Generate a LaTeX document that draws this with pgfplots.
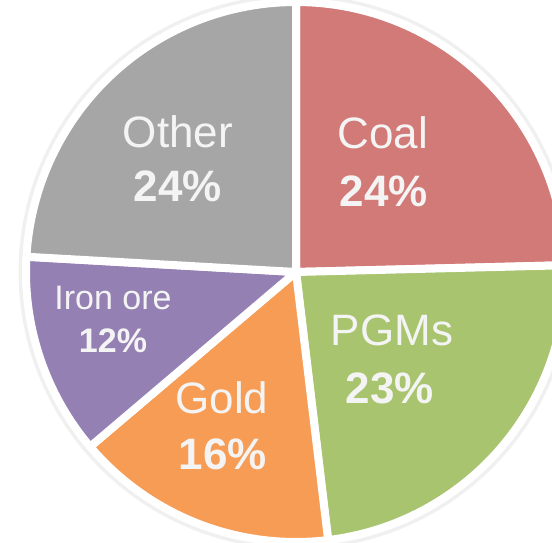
\documentclass[border=0pt]{standalone}
\usepackage{pgfplots}
\pgfplotsset{compat=1.18}
\usepackage{pgfplotstable}
\usepackage{fontspec}
\setmainfont{Liberation Sans}
\definecolor{coal}{HTML}{D17A77}
\definecolor{pgms}{HTML}{A8C46F}
\definecolor{gold}{HTML}{F79C55}
\definecolor{iron}{HTML}{9580B3}
\definecolor{other}{HTML}{A6A6A6}
\definecolor{lbl}{HTML}{F4F4F4}
\pgfplotstableread{
name value
Coal 24.6
PGMs 23.5
Gold 15.7
Iron 12.1
Other 24.1
}\piedata
\begin{document}
\begin{tikzpicture}
\pgfplotstablegetelem{0}{value}\of\piedata \let\vA\pgfplotsretval
\pgfplotstablegetelem{1}{value}\of\piedata \let\vB\pgfplotsretval
\pgfplotstablegetelem{2}{value}\of\piedata \let\vC\pgfplotsretval
\pgfplotstablegetelem{3}{value}\of\piedata \let\vD\pgfplotsretval
\pgfplotstablegetelem{4}{value}\of\piedata \let\vE\pgfplotsretval
\pgfmathsetmacro\aA{90}
\pgfmathsetmacro\aB{\aA-3.6*\vA}
\pgfmathsetmacro\aC{\aB-3.6*\vB}
\pgfmathsetmacro\aD{\aC-3.6*\vC}
\pgfmathsetmacro\aE{\aD-3.6*\vD}
\pgfmathsetmacro\aF{\aE-3.6*\vE}
\def\cx{296}\def\cy{270}\def\R{270}
\begin{axis}[width=552pt,height=542pt,scale only axis,
  xmin=0,xmax=552,ymin=0,ymax=542,hide axis,clip=true]
\addplot[draw=black!6,line width=15pt,domain=0:360,samples=180,variable=\t]
  ({\cx+\R*cos(\t)},{\cy+\R*sin(\t)});
\addplot[fill=coal,draw=white,line width=8pt,line join=round,domain=\aB:\aA,samples=90,variable=\t]
  ({\cx+\R*cos(\t)},{\cy+\R*sin(\t)}) -- (\cx,\cy) -- cycle;
\addplot[fill=pgms,draw=white,line width=8pt,line join=round,domain=\aC:\aB,samples=90,variable=\t]
  ({\cx+\R*cos(\t)},{\cy+\R*sin(\t)}) -- (\cx,\cy) -- cycle;
\addplot[fill=gold,draw=white,line width=8pt,line join=round,domain=\aD:\aC,samples=90,variable=\t]
  ({\cx+\R*cos(\t)},{\cy+\R*sin(\t)}) -- (\cx,\cy) -- cycle;
\addplot[fill=iron,draw=white,line width=8pt,line join=round,domain=\aE:\aD,samples=90,variable=\t]
  ({\cx+\R*cos(\t)},{\cy+\R*sin(\t)}) -- (\cx,\cy) -- cycle;
\addplot[fill=other,draw=white,line width=8pt,line join=round,domain=\aF:\aE,samples=90,variable=\t]
  ({\cx+\R*cos(\t)},{\cy+\R*sin(\t)}) -- (\cx,\cy) -- cycle;
\tikzset{big/.style={text=lbl,font=\fontsize{44}{44}\selectfont,inner sep=0pt},
         bigb/.style={text=lbl,font=\fontsize{44}{44}\selectfont\bfseries,inner sep=0pt},
         sm/.style={text=lbl,font=\fontsize{34}{34}\selectfont,inner sep=0pt},
         smb/.style={text=lbl,font=\fontsize{34}{34}\selectfont\bfseries,inner sep=0pt}}
\node[big] at (axis cs:178,410) {Other};
\node[bigb] at (axis cs:178,356) {24\%};
\node[big] at (axis cs:383,409) {Coal};
\node[bigb] at (axis cs:384,351) {24\%};
\node[big] at (axis cs:392,212) {PGMs};
\node[bigb] at (axis cs:390,154) {23\%};
\node[big] at (axis cs:222,144) {Gold};
\node[bigb] at (axis cs:223,88) {16\%};
\node[sm] at (axis cs:113,244) {Iron ore};
\node[smb] at (axis cs:113,201) {12\%};
\end{axis}
\pgfresetboundingbox
\useasboundingbox (0,0) rectangle (552pt,542pt);
\end{tikzpicture}
\end{document}
